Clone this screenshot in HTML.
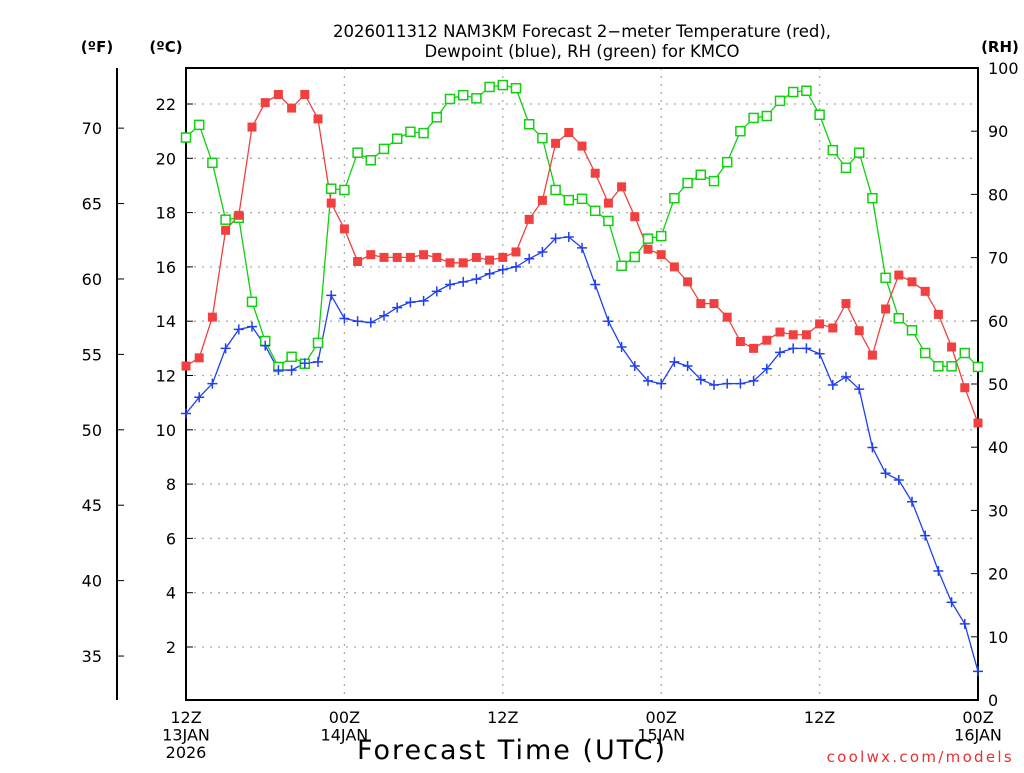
<!DOCTYPE html>
<html><head><meta charset="utf-8"><style>
html,body{margin:0;padding:0;background:#fff;}
svg text{font-family:"DejaVu Sans","Liberation Sans",sans-serif;fill:#000;}
</style></head><body>
<svg id="chart" width="1024" height="768" viewBox="0 0 1024 768" xmlns="http://www.w3.org/2000/svg">
<g id="grid"></g>
<g id="axes"></g>
<g id="series"></g>
<text x="582" y="37" font-size="16.5" text-anchor="middle">2026011312 NAM3KM Forecast 2−meter Temperature (red),</text>
<text x="582" y="57" font-size="16.5" text-anchor="middle">Dewpoint (blue), RH (green) for KMCO</text>
<text x="97" y="52" font-size="15" font-weight="bold" text-anchor="middle">(ºF)</text>
<text x="166" y="52" font-size="15" font-weight="bold" text-anchor="middle">(ºC)</text>
<text x="1000" y="52" font-size="15" font-weight="bold" text-anchor="middle">(RH)</text>
<text x="512" y="759" font-size="27" letter-spacing="2" text-anchor="middle">Forecast Time (UTC)</text>
<text x="1014" y="762" font-size="15" letter-spacing="2.3" text-anchor="end" style="fill:#e83030">coolwx.com/models</text>
</svg>
<script>
const tempC=[12.35,12.65,14.15,17.35,17.9,21.15,22.05,22.35,21.85,22.35,21.45,18.35,17.4,16.2,16.45,16.35,16.35,16.35,16.45,16.35,16.15,16.15,16.35,16.25,16.35,16.55,17.75,18.45,20.55,20.95,20.45,19.45,18.35,18.95,17.85,16.65,16.45,16.0,15.45,14.65,14.65,14.15,13.25,13.0,13.3,13.6,13.5,13.5,13.9,13.75,14.65,13.65,12.75,14.45,15.7,15.45,15.1,14.25,13.05,11.55,10.25];
const dewC=[10.6,11.2,11.7,13.0,13.7,13.8,13.1,12.2,12.2,12.45,12.5,14.95,14.1,14.0,13.95,14.2,14.5,14.7,14.75,15.1,15.35,15.45,15.55,15.75,15.9,16.0,16.3,16.55,17.05,17.1,16.7,15.35,14.0,13.05,12.35,11.8,11.7,12.5,12.35,11.85,11.65,11.7,11.7,11.8,12.25,12.85,13.0,13.0,12.8,11.65,11.95,11.5,9.35,8.4,8.15,7.35,6.1,4.8,3.65,2.85,1.1];
const rh=[89,91,85,76,76.3,63,56.8,52.7,54.3,53.2,56.5,80.9,80.7,86.6,85.4,87.2,88.8,89.9,89.7,92.2,95.1,95.7,95.2,97,97.3,96.8,91.1,88.9,80.7,79.1,79.3,77.4,75.8,68.7,70.1,73,73.4,79.4,81.8,83.1,82.1,85.1,90,92.1,92.4,94.8,96.2,96.4,92.6,87,84.2,86.6,79.4,66.8,60.4,58.5,54.9,52.8,52.8,54.9,52.7];
const celsiusTicks=[2,4,6,8,10,12,14,16,18,20,22];
const fahrenheitTicks=[35,40,45,50,55,60,65,70];
const rhTicks=[0,10,20,30,40,50,60,70,80,90,100];
const timeTicks=[0,12,24,36,48,60];
const timeLabels=[["12Z","13JAN","2026"],["00Z","14JAN"],["12Z"],["00Z","15JAN"],["12Z"],["00Z","16JAN"]];

const NS="http://www.w3.org/2000/svg";
const L=186,R=978,T=68,B=700;
const x=h=>L+(R-L)*h/60;
const yC=c=>701.3-27.15*c;
const yF=f=>yC((f-32)*5/9);
const yRH=v=>B-(B-T)*v/100;
function mk(tag,attrs,parent,txt){const e=document.createElementNS(NS,tag);for(const k in attrs)e.setAttribute(k,attrs[k]);if(txt!==undefined)e.textContent=txt;parent.appendChild(e);return e;}
const grid=document.getElementById('grid'),axes=document.getElementById('axes'),series=document.getElementById('series');

celsiusTicks.forEach(c=>{
  const g=mk('line',{x1:L,x2:R,y1:yC(c),y2:yC(c),stroke:'#aaa','stroke-width':1.3,'stroke-dasharray':'2,6'},grid);
  
  
  const t=mk('line',{x1:L,x2:L+7,y1:yC(c),y2:yC(c),stroke:'#000','stroke-width':1},axes);
  
  
  const l=mk('text',{x:L-10,y:yC(c)+6,'font-size':16,'text-anchor':'end'},axes,String(c));
  
  
});
timeTicks.forEach((h,i)=>{
  if(h>0&&h<60){const g=mk('line',{x1:x(h),x2:x(h),y1:T,y2:B,stroke:'#aaa','stroke-width':1.3,'stroke-dasharray':'2,6'},grid);
  
  }
  timeLabels[i].forEach((s,j)=>{
    const t=mk('text',{x:x(h),y:723+j*17.5,'font-size':16,'text-anchor':'middle'},axes,s);
    
    
  });
});
fahrenheitTicks.forEach(f=>{
  const t=mk('line',{x1:117,x2:124,y1:yF(f),y2:yF(f),stroke:'#000','stroke-width':1},axes);
  
  
  const l=mk('text',{x:102,y:yF(f)+6,'font-size':16,'text-anchor':'end'},axes,String(f));
  
  
});
rhTicks.forEach(v=>{
  const t=mk('line',{x1:R-7,x2:R,y1:yRH(v),y2:yRH(v),stroke:'#000','stroke-width':1},axes);
  
  
  const l=mk('text',{x:988,y:yRH(v)+6,'font-size':16,'text-anchor':'start'},axes,String(v));
  
  
});
const frame=mk('rect',{x:L,y:T,width:R-L,height:B-T,fill:'none',stroke:'#000','stroke-width':2},axes);


const fax=mk('line',{x1:117,x2:117,y1:T,y2:B,stroke:'#000','stroke-width':2},axes);



function line(vals,yf,color,name){
  const p=mk('polyline',{points:vals.map((v,i)=>x(i)+','+yf(v)).join(' '),fill:'none',stroke:color,'stroke-width':1.3},series);
  
  
}
line(rh,yRH,'#10d010','rh');
line(tempC,yC,'#f04040','temperature');
line(dewC,yC,'#2040f0','dewpoint');
rh.forEach((v,i)=>{
  const m=mk('rect',{x:x(i)-4.5,y:yRH(v)-4.5,width:9,height:9,fill:'#fff',stroke:'#10d010','stroke-width':1.5},series);
  
  
});
tempC.forEach((v,i)=>{
  const m=mk('rect',{x:x(i)-4.5,y:yC(v)-4.5,width:9,height:9,fill:'#f04040'},series);
  
  
});
dewC.forEach((v,i)=>{
  const m=mk('path',{d:`M${x(i)-5},${yC(v)}h10M${x(i)},${yC(v)-5}v10`,stroke:'#2040f0','stroke-width':1.5},series);
  
  
});
</script>
</body></html>
